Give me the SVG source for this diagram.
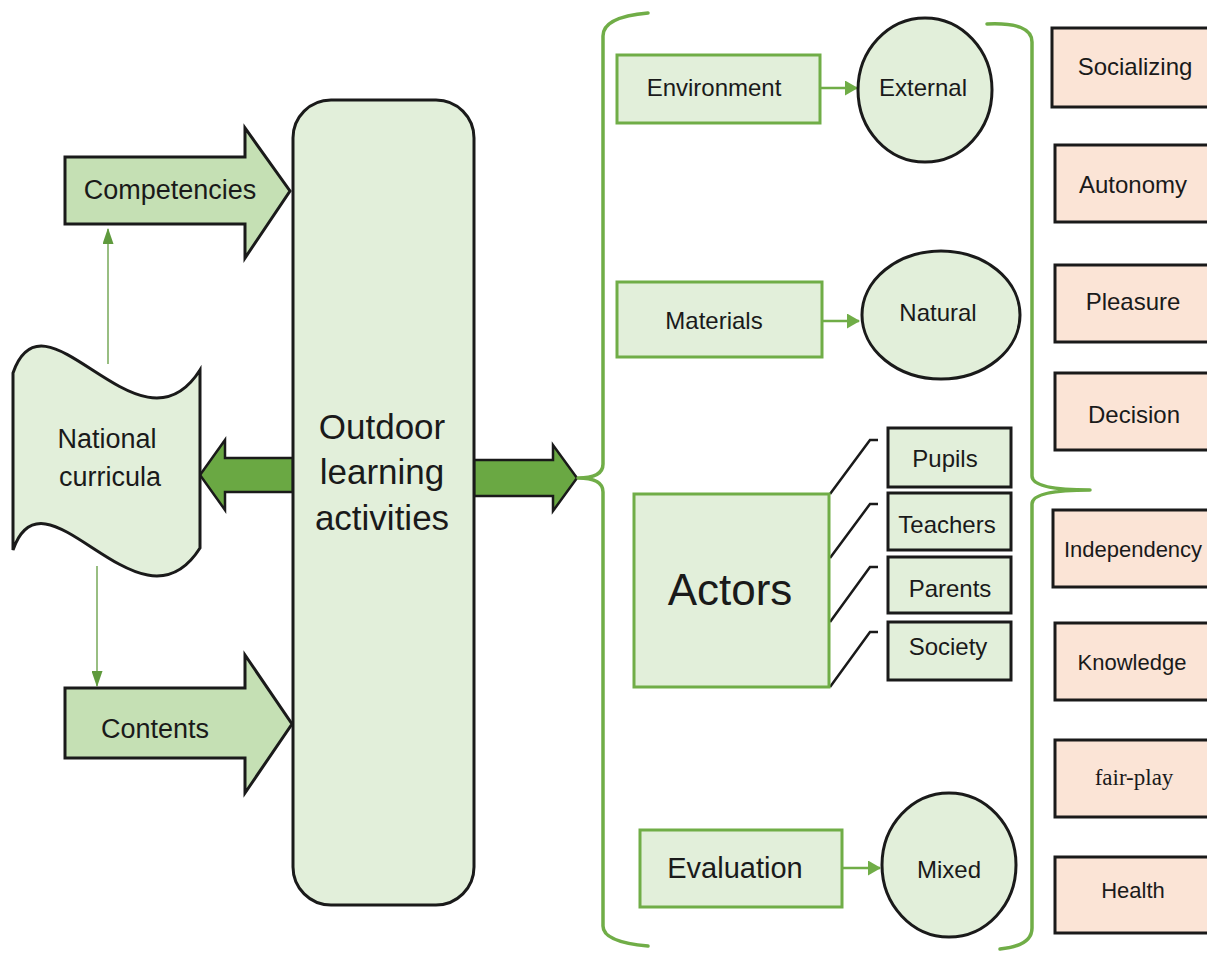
<svg xmlns="http://www.w3.org/2000/svg" width="1207" height="953" viewBox="0 0 1207 953">
  <defs>
    <marker id="thinHead" viewBox="0 0 16 11" refX="15" refY="5.5" markerWidth="16" markerHeight="11" orient="auto" markerUnits="userSpaceOnUse">
      <path d="M0,0 L16,5.5 L0,11 Z" fill="#5f9a3d"/>
    </marker>
    <marker id="greenHead" viewBox="0 0 13 15" refX="12" refY="7.5" markerWidth="13" markerHeight="15" orient="auto" markerUnits="userSpaceOnUse">
      <path d="M0,0 L13,7.5 L0,15 Z" fill="#70ad47"/>
    </marker>
  </defs>
  <style>
    text { font-family: "Liberation Sans", Arial, sans-serif; fill: #1a1a1a; text-anchor: middle; }
    .serif { font-family: "Liberation Serif", "Times New Roman", serif; }
    .pale { fill: #e2efda; }
    .black { stroke: #1a1a1a; stroke-width: 3; }
    .gbox { fill: #e2efda; stroke: #70ad47; stroke-width: 3; }
    .abox { fill: #e2efda; stroke: #1a1a1a; stroke-width: 3; }
    .pbox { fill: #fbe4d6; stroke: #1a1a1a; stroke-width: 3; }
    .oval { fill: #e2efda; stroke: #1a1a1a; stroke-width: 3; }
    .fat { fill: #c5e0b4; stroke: #1a1a1a; stroke-width: 3; stroke-linejoin: miter; }
    .thick { fill: #6aa843; stroke: #1a1a1a; stroke-width: 2.5; }
    .thin { fill: none; stroke: #7fae63; stroke-width: 1.6; }
    .garrow { fill: none; stroke: #70ad47; stroke-width: 2.5; }
    .brace { fill: none; stroke: #70ad47; stroke-width: 3.5; stroke-linecap: round; stroke-linejoin: round; }
    .tie { fill: none; stroke: #1a1a1a; stroke-width: 2.5; }
  </style>

  <rect width="1207" height="953" fill="#ffffff"/>

  <!-- connectors -->
  <g id="connectors">
    <line class="thin" x1="108" y1="364" x2="108" y2="229" marker-end="url(#thinHead)"/>
    <line class="thin" x1="97" y1="566" x2="97" y2="686" marker-end="url(#thinHead)"/>
    <polygon class="thick" points="293,458 225,458 225,440 200,475 225,510 225,492 293,492"/>
    <polygon class="thick" points="474,460 553,460 553,445 577,478 553,511 553,496 474,496"/>
    <line class="garrow" x1="820" y1="88" x2="857" y2="88" marker-end="url(#greenHead)"/>
    <line class="garrow" x1="822" y1="321" x2="859" y2="321" marker-end="url(#greenHead)"/>
    <line class="garrow" x1="842" y1="868" x2="880" y2="868" marker-end="url(#greenHead)"/>
    <polyline class="tie" points="830,494 870,440 878,440"/>
    <polyline class="tie" points="830,558 870,504 878,504"/>
    <polyline class="tie" points="830,622 870,567 878,567"/>
    <polyline class="tie" points="830,687 870,632 878,632"/>
    <path class="brace" d="M648,13 Q603,17 603,36 L603,464 Q603,478 578,478 Q603,478 603,492 L603,926 Q603,942 648,946"/>
    <path class="brace" d="M987,24 Q1032,22 1032,42 L1032,476 Q1032,490 1090,490 Q1032,490 1032,504 L1032,928 Q1032,946 1000,949"/>
  </g>

  <!-- left column -->
  <g id="competencies">
    <polygon class="fat" points="65,157 245,157 245,128 290,191 245,258 245,224 65,224"/>
    <text x="170" y="199" font-size="27">Competencies</text>
  </g>
  <g id="national-curricula">
    <path class="pale black" d="M13,373 C45,280 140,465 200,370 L200,548 C140,643 45,458 13,550 Z"/>
    <text x="107" y="448" font-size="27">National</text>
    <text x="110" y="486" font-size="27">curricula</text>
  </g>
  <g id="contents">
    <polygon class="fat" points="65,688 245,688 245,655 292,724 245,793 245,758 65,758"/>
    <text x="155" y="738" font-size="27">Contents</text>
  </g>

  <!-- central block -->
  <g id="outdoor-learning">
    <rect class="pale black" x="293" y="100" width="181" height="805" rx="38" ry="38"/>
    <text x="382" y="439" font-size="35">Outdoor</text>
    <text x="382" y="484" font-size="35">learning</text>
    <text x="382" y="530" font-size="35">activities</text>
  </g>

  <!-- dimensions -->
  <g id="environment">
    <rect class="gbox" x="617" y="55" width="203" height="68"/>
    <text x="714" y="96" font-size="24">Environment</text>
  </g>
  <g id="external">
    <ellipse class="oval" cx="925" cy="90" rx="67" ry="72"/>
    <text x="923" y="96" font-size="24">External</text>
  </g>
  <g id="materials">
    <rect class="gbox" x="617" y="282" width="205" height="75"/>
    <text x="714" y="329" font-size="24">Materials</text>
  </g>
  <g id="natural">
    <ellipse class="oval" cx="941" cy="315" rx="79" ry="64"/>
    <text x="938" y="321" font-size="24">Natural</text>
  </g>
  <g id="actors">
    <rect class="gbox" x="634" y="494" width="195" height="193"/>
    <text x="730" y="605" font-size="44">Actors</text>
  </g>
  <g id="pupils">
    <rect class="abox" x="888" y="428" width="123" height="59"/>
    <text x="945" y="467" font-size="24">Pupils</text>
  </g>
  <g id="teachers">
    <rect class="abox" x="888" y="493" width="123" height="57"/>
    <text x="947" y="533" font-size="24">Teachers</text>
  </g>
  <g id="parents">
    <rect class="abox" x="888" y="557" width="123" height="56"/>
    <text x="950" y="597" font-size="24">Parents</text>
  </g>
  <g id="society">
    <rect class="abox" x="888" y="622" width="123" height="58"/>
    <text x="948" y="655" font-size="24">Society</text>
  </g>
  <g id="evaluation">
    <rect class="gbox" x="640" y="830" width="202" height="77"/>
    <text x="735" y="878" font-size="29">Evaluation</text>
  </g>
  <g id="mixed">
    <ellipse class="oval" cx="949" cy="865" rx="67" ry="72"/>
    <text x="949" y="878" font-size="24">Mixed</text>
  </g>

  <!-- outcomes -->
  <g id="socializing">
    <rect class="pbox" x="1052" y="28" width="170" height="79"/>
    <text x="1135" y="75" font-size="24">Socializing</text>
  </g>
  <g id="autonomy">
    <rect class="pbox" x="1055" y="145" width="170" height="77"/>
    <text x="1133" y="193" font-size="24">Autonomy</text>
  </g>
  <g id="pleasure">
    <rect class="pbox" x="1055" y="265" width="170" height="77"/>
    <text x="1133" y="310" font-size="24">Pleasure</text>
  </g>
  <g id="decision">
    <rect class="pbox" x="1055" y="373" width="170" height="77"/>
    <text x="1134" y="423" font-size="24">Decision</text>
  </g>
  <g id="independency">
    <rect class="pbox" x="1053" y="510" width="170" height="77"/>
    <text x="1133" y="557" font-size="22">Independency</text>
  </g>
  <g id="knowledge">
    <rect class="pbox" x="1055" y="623" width="170" height="77"/>
    <text x="1132" y="670" font-size="22">Knowledge</text>
  </g>
  <g id="fair-play">
    <rect class="pbox" x="1055" y="740" width="170" height="77"/>
    <text class="serif" x="1134" y="785" font-size="23">fair-play</text>
  </g>
  <g id="health">
    <rect class="pbox" x="1055" y="857" width="170" height="76"/>
    <text x="1133" y="898" font-size="22">Health</text>
  </g>
</svg>
